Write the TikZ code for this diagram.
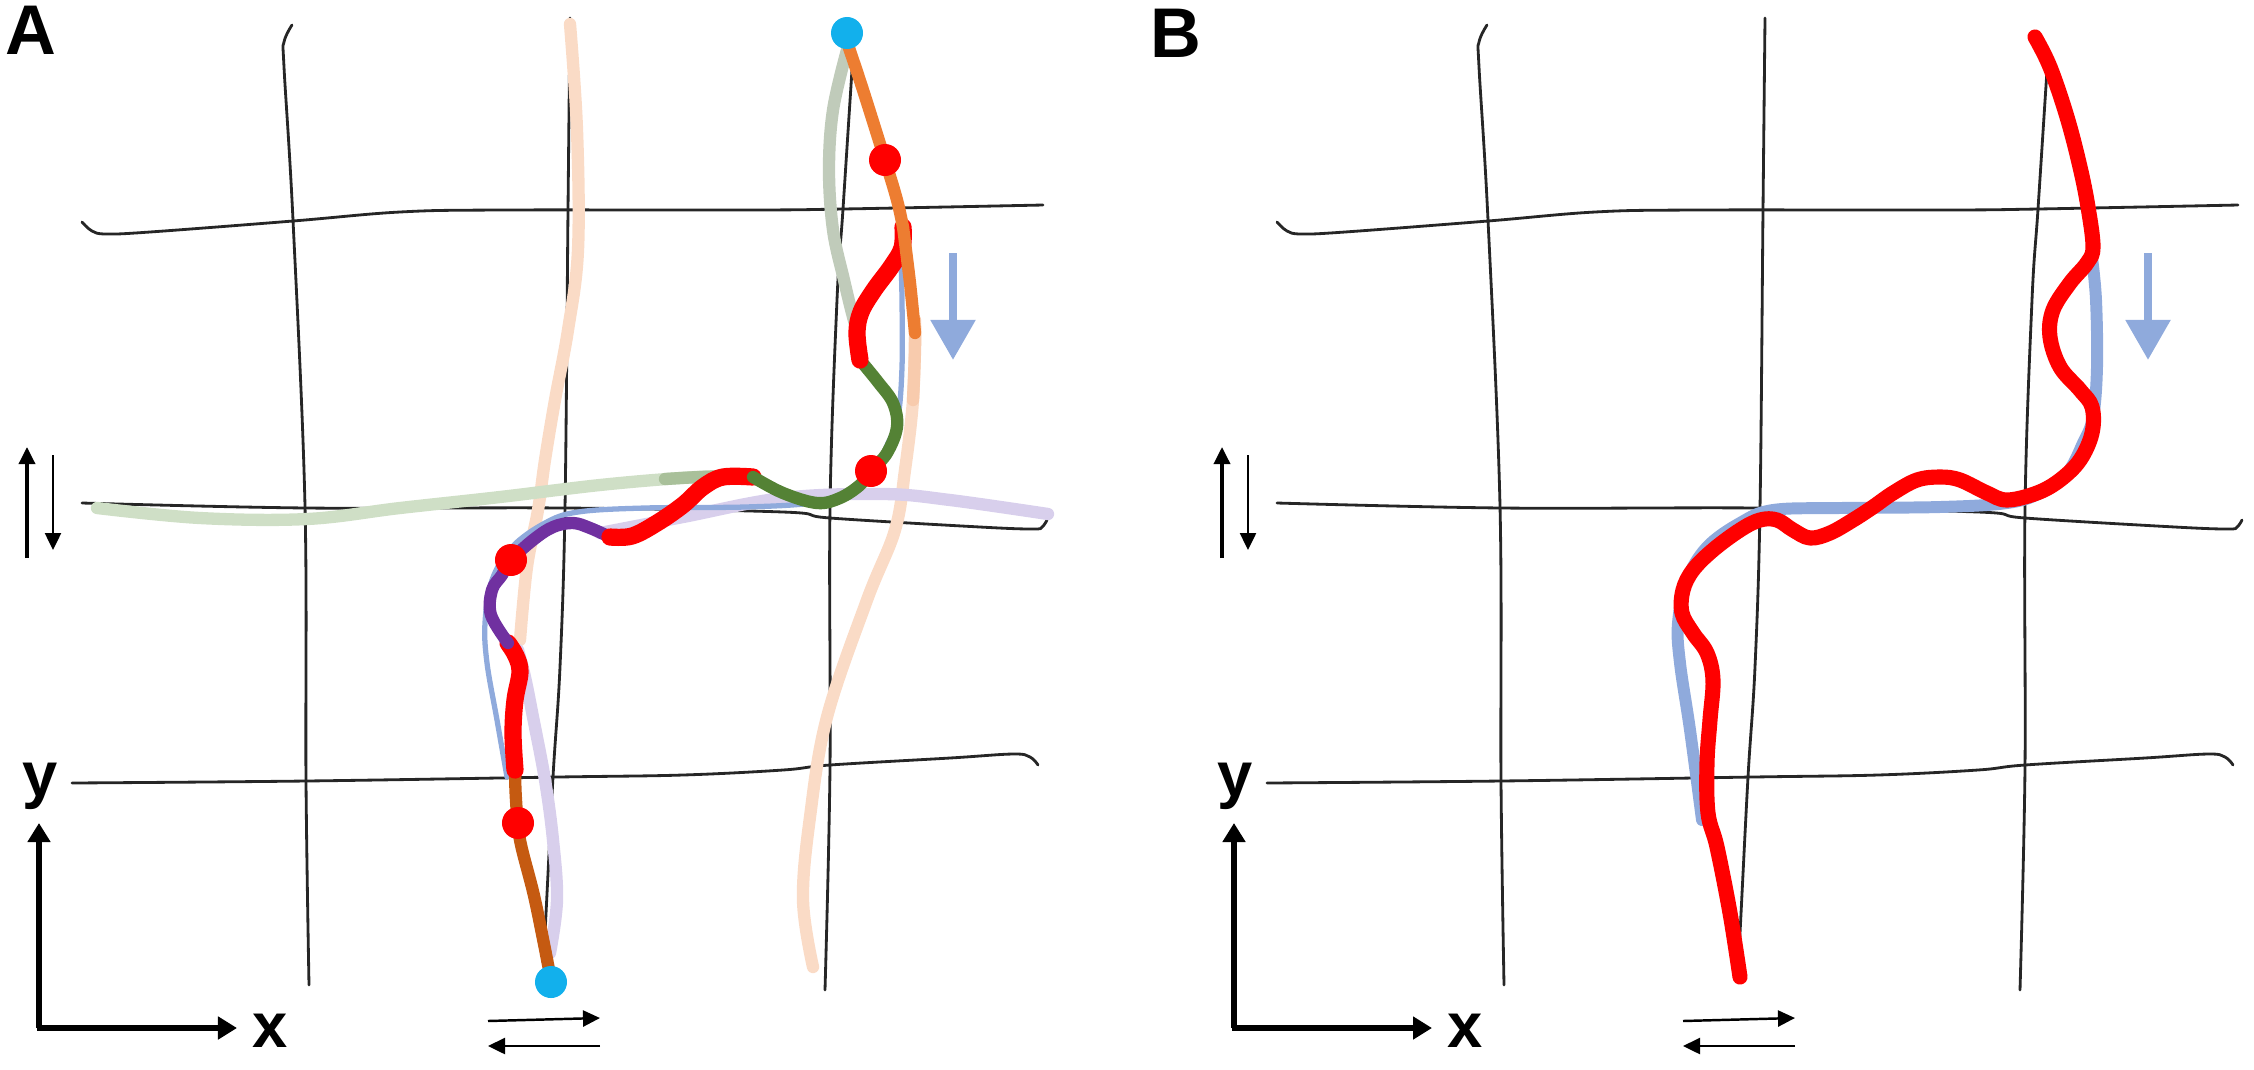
\documentclass[tikz,border=0pt]{standalone}
\usepackage{fontspec}
\setmainfont{Liberation Sans}
\usetikzlibrary{arrows.meta}
\definecolor{TrackRed}{HTML}{FF0000}
\definecolor{TrackGreen}{HTML}{548235}
\definecolor{TrackPurple}{HTML}{7030A0}
\definecolor{TrackOrange}{HTML}{ED7D31}
\definecolor{TrackBrown}{HTML}{C55A11}
\definecolor{Template}{HTML}{8FAADC}
\definecolor{Peach}{HTML}{FADBC6}
\definecolor{Sage}{HTML}{CFDFC6}
\definecolor{Lavender}{HTML}{D8CFEC}
\definecolor{Marker}{HTML}{12B0EC}
\tikzset{
  gridline/.style={line width=0.8pt,draw=black!85,line cap=round},
  track/.style={line width=3.5pt,line cap=round,line join=round},
  redtrack/.style={track,line width=4.9pt,draw=TrackRed},
  faint/.style={line width=3.5pt,line cap=round},
  axisarrow/.style={-{Triangle[length=0.19cm,width=0.22cm]},line width=1.8pt},
  shiftarrow/.style={-{Triangle[length=0.17cm,width=0.16cm]},line width=0.7pt},
  downarrow/.style={-{Triangle[length=0.40cm,width=0.43cm]},line width=2.4pt,draw=Template},
  redmark/.style={circle,fill=TrackRed,minimum size=0.32cm,inner sep=0pt},
  bluemark/.style={circle,fill=Marker,minimum size=0.32cm,inner sep=0pt},
  panellabel/.style={font=\fontsize{20}{20}\selectfont\bfseries,inner sep=0pt,anchor=north west},
  axislabel/.style={font=\fontsize{18}{18}\selectfont\bfseries,inner sep=0pt},
}
\begin{document}
\begin{tikzpicture}[x=0.01cm,y=-0.01cm]
  \useasboundingbox (0,0) rectangle (2254,1069);
  \node[panellabel] (labA) at (5,5) {A};
  \node[panellabel] (labB) at (1150,8) {B};

  % sketched grid, axes and hints, same in both panels
  \foreach \dx in {0,1195}{
    \begin{scope}[shift={(\dx,0)}]
      \draw[gridline] plot[smooth,tension=0.6] coordinates {(292,25) (284,42) (284,67) (293,220) (305,506) (306,781) (309,985)};
      \draw[gridline] plot[smooth,tension=0.6] coordinates {(570,18) (568,210) (565,508) (560,667) (553,777) (545,933) (543,963)};
      \draw[gridline] plot[smooth,tension=0.6] coordinates {(852,70) (843,209) (837,300) (830,508) (830,767) (825,990)};
      \draw[gridline] plot[smooth,tension=0.6] coordinates {(82,222) (92,231) (106,234) (150,232) (293,221) (400,212) (500,210) (750,210) (843,209) (1043,205)};
      \draw[gridline] plot[smooth,tension=0.6] coordinates {(82,503) (307,508) (565,508) (783,512) (830,518) (980,527) (1033,529) (1042,527) (1047,520)};
      \draw[gridline] plot[smooth,tension=0.6] coordinates {(72,783) (306,781) (558,777) (683,775) (783,770) (830,765) (950,758) (1013,754) (1030,757) (1038,765)};
      \draw[axisarrow] (39,1028) -- (39,823);
      \draw[axisarrow] (37,1028) -- (237,1028);
      \node[axislabel] (ylab\dx) at (40,786) {y};
      \node[axislabel] (xlab\dx) at (270,1031) {x};
      \draw[shiftarrow,line width=1pt] (27,558) -- (27,447);
      \draw[shiftarrow] (53,455) -- (53,550);
      \draw[shiftarrow] (488,1021) -- (600,1018);
      \draw[shiftarrow] (600,1046) -- (488,1046);
      \draw[downarrow] (953,253) -- (953,360);
    \end{scope}
  }

  % panel A: earlier trials
  \draw[faint,draw=Peach] plot[smooth,tension=0.6] coordinates {(570,24) (577,130) (578,250) (568,330) (555,400) (545,460) (538,510) (527,567) (520,640)};
  \draw[faint,draw=Peach] plot[smooth,tension=0.6] coordinates {(915,333) (913,400) (905,470) (895,530) (867,600) (827,717) (810,817) (803,900) (813,967)};
  \draw[track,draw=TrackOrange!40] plot[smooth,tension=0.6] coordinates {(915,320) (915,350) (913,400)};
  \draw[faint,draw=Sage] plot[smooth,tension=0.6] coordinates {(97,508) (200,518) (307,519) (400,508) (500,497) (600,485) (680,478) (725,476)};
  \draw[track,draw=TrackGreen!50] plot[smooth,tension=0.6] coordinates {(665,479) (700,477) (735,476)};
  \draw[faint,draw=Sage!85!black!80] plot[smooth,tension=0.6] coordinates {(847,50) (833,110) (829,170) (833,230) (844,280) (853,317) (860,340)};
  \draw[faint,draw=Lavender] plot[smooth,tension=0.6] coordinates {(550,953) (557,900) (553,840) (545,780) (533,717) (525,677) (518,650)};
  \draw[faint,draw=Lavender] plot[smooth,tension=0.6] coordinates {(600,533) (683,517) (783,498) (883,494) (950,500) (1048,514)};
  \draw[line width=1.5pt,draw=Template,line cap=round] plot[smooth,tension=0.6] coordinates {(901,262) (902,300) (902,367) (898,417) (888,443) (872,473) (845,493) (812,503) (745,507) (645,508) (578,512) (545,523) (512,547) (492,580) (485,623) (487,663) (497,720) (507,777)};

  % panel A: trial with segments
  \draw[track,draw=TrackBrown] plot[smooth,tension=0.6] coordinates {(551,980) (535,900) (520,840) (516,800) (515,770)};
  \draw[redtrack] plot[smooth,tension=0.6] coordinates {(515,770) (513,733) (515,700) (520,672) (516,656) (508,643)};
  \draw[track,draw=TrackPurple] plot[smooth,tension=0.6] coordinates {(508,643) (491,615) (492,590) (502,575) (511,560) (533,540) (553,527) (573,523) (590,528) (610,537)};
  \draw[redtrack] plot[smooth,tension=0.6] coordinates {(610,537) (632,536) (657,523) (683,505) (703,487) (723,477) (753,477)};
  \draw[track,draw=TrackGreen] plot[smooth,tension=0.6] coordinates {(753,477) (783,493) (817,503) (840,498) (860,485) (871,471) (887,453) (897,427) (893,403) (878,382) (860,360)};
  \draw[redtrack] plot[smooth,tension=0.6] coordinates {(860,360) (857,333) (861,312) (874,290) (891,267) (902,248) (903,227)};
  \draw[track,draw=TrackOrange] plot[smooth,tension=0.6] coordinates {(903,227) (897,200) (885,160) (863,90) (848,45)};
  \draw[track,draw=TrackOrange] plot[smooth,tension=0.6] coordinates {(903,227) (910,283) (915,333)};
  \node[redmark] (mA1) at (518,823) {};
  \node[redmark] (mA2) at (511,560) {};
  \node[redmark] (mA3) at (871,471) {};
  \node[redmark] (mA4) at (885,160) {};
  \node[bluemark] (startA) at (551,982) {};
  \node[bluemark] (endA) at (847,33) {};

  % panel B
  \begin{scope}[shift={(1195,0)}]
    \draw[line width=3.4pt,draw=Template,line cap=round] plot[smooth,tension=0.6] coordinates {(897,258) (901,300) (902,367) (898,417) (888,443) (872,473) (845,493) (812,503) (745,507) (645,508) (578,510) (545,523) (512,547) (492,580) (483,623) (485,663) (495,730) (507,820)};
    \draw[redtrack,line width=4.3pt] plot[smooth,tension=0.6] coordinates {(840,37) (855,67) (872,117) (885,167) (893,207) (898,247) (892,263) (875,283) (858,310) (855,337) (865,367) (885,390) (897,407) (897,433) (885,460) (865,480) (842,493) (812,500) (792,493) (765,480) (745,477) (722,480) (698,493) (678,507) (658,520) (635,533) (615,538) (598,530) (582,520) (565,520) (545,530) (518,550) (498,570) (488,590) (487,613) (498,633) (512,653) (518,680) (515,720) (512,763) (513,813) (522,847) (535,913) (545,977)};
  \end{scope}
\end{tikzpicture}
\end{document}
